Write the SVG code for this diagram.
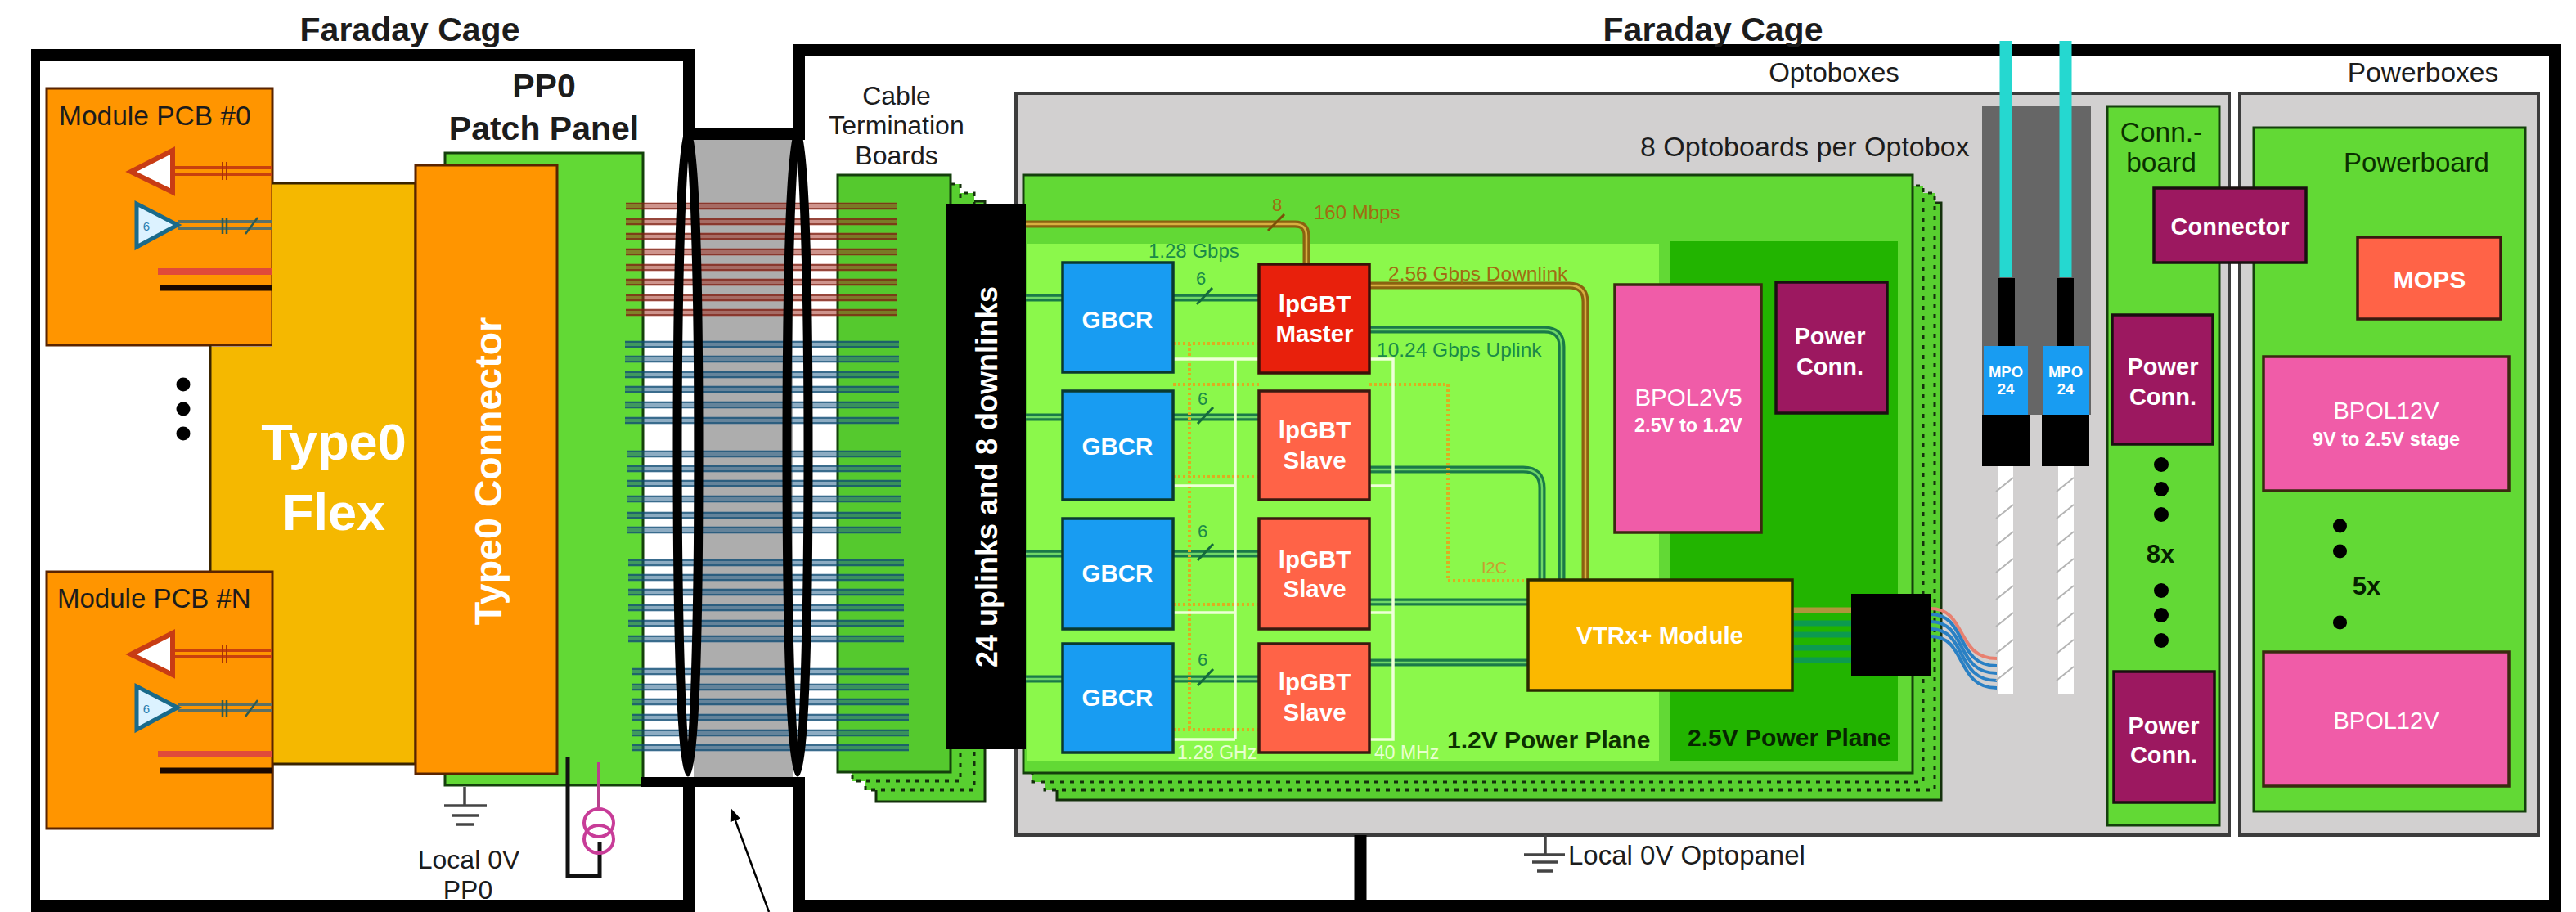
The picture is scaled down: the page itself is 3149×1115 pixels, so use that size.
<svg xmlns="http://www.w3.org/2000/svg" xmlns:xlink="http://www.w3.org/1999/xlink" width="3149" height="1115" viewBox="0 0 3149 1115">
<style>
text{font-family:"Liberation Sans",Arial,sans-serif;fill:#1c1c1c}
.b{font-weight:bold}
.m{text-anchor:middle}
.w{fill:#fff}
.gt{fill:#1a8a48}
.ot{fill:#a06c12}
.brd{fill:#62d935;stroke:#14400c;stroke-width:3}
.ctb{fill:#55c92e;stroke:#14400c;stroke-width:3}
.dot{fill:#58cf30;stroke:#14300c;stroke-width:3;stroke-dasharray:5 7}
.sol{fill:#58cf30;stroke:#14300c;stroke-width:3}
.gbcr{fill:#189cf2;stroke:#0a3a30;stroke-width:3.5}
.slv{fill:#ff6347;stroke:#3a1a10;stroke-width:3.5}
.mag{fill:#9c1860;stroke:#1a1010;stroke-width:3.5}
.pnk{fill:#f05ca8;stroke:#3a2a10;stroke-width:3.5}
.box{fill:#d2d0d0;stroke:#3c3c3c;stroke-width:4}
.mod{fill:#ff9500;stroke:#5a2400;stroke-width:3}
.rb{fill:none;stroke:#a02a1c;stroke-width:9;opacity:.5}
.rw{fill:none;stroke:#7a1c10;stroke-width:2;opacity:.65}
.bb{fill:none;stroke:#1c5a88;stroke-width:9;opacity:.5}
.bw{fill:none;stroke:#0e4a70;stroke-width:2;opacity:.65}
.go{fill:none;stroke:#1a7a48;stroke-width:9}
.gi{fill:none;stroke:#6fd868;stroke-width:2.5}
.oo{fill:none;stroke:#8a6210;stroke-width:9}
.oi{fill:none;stroke:#d8b040;stroke-width:2.5}
.tick{fill:none;stroke:#146a3c;stroke-width:3}
.clk{fill:none;stroke:#eeffd8;stroke-width:3.5}
.i2c{fill:none;stroke:#dcae20;stroke-width:4;stroke-dasharray:3 3}
.gnd{fill:none;stroke:#444;stroke-width:3.5}
.dots{fill:#000}
</style>
<defs>
<g id="modint">
<path d="M211 205H333M211 213H333" fill="none" stroke="#c8400e" stroke-width="4"/>
<path d="M272 198V220M277 198V220" fill="none" stroke="#a83408" stroke-width="2"/>
<polygon points="160,210 211,184 211,235" fill="#fff" stroke="#c83c14" stroke-width="6"/>
<path d="M217 271H333M217 279H333" fill="none" stroke="#5a7066" stroke-width="4"/>
<path d="M272 266V286M277 266V286M300 286L315 266" fill="none" stroke="#2c5a50" stroke-width="2.5"/>
<polygon points="167,249 167,302 217,275" fill="#dcf2ff" stroke="#1a6a8a" stroke-width="5"/>
<text x="179" y="282" font-size="15" style="fill:#2a80b0" text-anchor="middle">6</text>
<path d="M193 332H333" stroke="#e04a3a" stroke-width="8"/>
<path d="M195 352H333" stroke="#1a0800" stroke-width="7"/>
</g>
<path id="hatch" d="M2440 601l21-17M2440 634l21-17M2440 667l21-17M2440 700l21-17M2440 733l21-17M2440 766l21-17M2440 799l21-17M2440 832l21-17" fill="none" stroke="#b4b4b4" stroke-width="2"/>
<marker id="ah" markerWidth="16" markerHeight="13" refX="1" refY="6.5" orient="auto" markerUnits="userSpaceOnUse" viewBox="0 0 16 13"><path d="M0 0L16 6.500L0 13Z" fill="#000"/></marker>
</defs>
<rect width="3149" height="1115" fill="#fff"/>

<g id="cage-left">
<rect x="38" y="60" width="812" height="1055" fill="#000"/>
<rect x="49" y="75" width="786" height="1025" fill="#fff"/>
<rect x="835" y="171" width="15" height="779" fill="#fff"/>
<text class="b m" x="501" y="50" font-size="41">Faraday Cage</text>
</g>
<g id="cage-right">
<rect x="969" y="54" width="2162" height="1061" fill="#000"/>
<rect x="984" y="68" width="2132" height="1032" fill="#fff"/>
<rect x="969" y="171" width="15" height="779" fill="#fff"/>
<text class="b m" x="2094" y="50" font-size="41">Faraday Cage</text>
</g>
<g id="cable-bundle">
<rect x="848" y="171" width="121" height="779" fill="#adadad"/>
</g>

<g id="module-0">
<rect class="mod" x="57" y="108" width="276" height="314"/>
<text x="72" y="153" font-size="33.500">Module PCB #0</text>
</g>
<g id="type0-flex">
<rect x="257" y="424" width="76" height="274" fill="#f5b800" stroke="none"/>
<path d="M333 224H508V934H333V1013H333" fill="#f5b800" stroke="#3a2400" stroke-width="3"/>
<path d="M257 422V699" fill="none" stroke="#3a2400" stroke-width="3"/>
<text class="b m w" x="408" y="562" font-size="63">Type0</text>
<text class="b m w" x="408" y="648" font-size="63">Flex</text>
</g>
<g id="module-n">
<rect class="mod" x="57" y="699" width="276" height="314"/>
<text x="70" y="743" font-size="33">Module PCB #N</text>
</g>
<use xlink:href="#modint" href="#modint"/>
<use xlink:href="#modint" href="#modint" transform="translate(0 590)"/>
<g id="dots-left" class="dots"><circle cx="224" cy="470" r="8.5"/><circle cx="224" cy="500" r="8.5"/><circle cx="224" cy="530" r="8.5"/></g>

<g id="pp0-panel">
<rect class="brd" x="544" y="187" width="242" height="773"/>
<text class="b m" x="665" y="119" font-size="41">PP0</text>
<text class="b m" x="665" y="171" font-size="41">Patch Panel</text>
</g>
<g id="type0-connector">
<rect class="mod" x="508" y="202" width="173" height="744" stroke="#3a2400"/>
<text class="b m w" transform="translate(613 576) rotate(-90)" font-size="46.5">Type0 Connector</text>
</g>
<g id="pp0-ground">
<path class="gnd" d="M568 962V985M543 985H595M553 997H586M558 1008H579"/>
<text class="m" x="573" y="1062" font-size="32">Local 0V</text>
<text class="m" x="572" y="1099" font-size="32">PP0</text>
</g>
<g id="pp0-sensor">
<path d="M694 926V1071H733V1030" fill="none" stroke="#111" stroke-width="5"/>
<path d="M732 932V991" fill="none" stroke="#b8408c" stroke-width="4"/>
<ellipse cx="732" cy="1006" rx="18" ry="17" fill="none" stroke="#c83c98" stroke-width="4"/>
<ellipse cx="732" cy="1026" rx="18" ry="17" fill="none" stroke="#c83c98" stroke-width="4"/>
</g>

<g id="ctb">
<rect class="sol" x="1071" y="246" width="133" height="734"/>
<rect class="dot" x="1058" y="236" width="133" height="730"/>
<rect class="dot" x="1042" y="225" width="132" height="730"/>
<rect class="ctb" x="1024" y="214" width="138" height="730"/>
<text class="m" x="1096" y="128" font-size="32">Cable</text>
<text class="m" x="1096" y="164" font-size="32">Termination</text>
<text class="m" x="1096" y="201" font-size="32">Boards</text>
</g>

<g id="optoboxes">
<rect class="box" x="1242" y="114" width="1483" height="907"/>
<text class="m" x="2242" y="100" font-size="33">Optoboxes</text>
<text x="2005" y="191" font-size="34">8 Optoboards per Optobox</text>
</g>
<g id="optoboard">
<rect class="sol" x="1292" y="248" width="1081" height="730"/>
<rect class="dot" x="1277" y="236" width="1088" height="730"/>
<rect class="dot" x="1262" y="227" width="1089" height="729"/>
<rect class="brd" x="1251" y="214" width="1087" height="731"/>
<rect x="1255" y="298" width="773" height="632" fill="#8bf84b"/>
<rect x="2041" y="295" width="279" height="636" fill="#22b400"/>
<text class="b" x="1769" y="915" font-size="30" style="fill:#0c3000">1.2V Power Plane</text>
<text class="b" x="2063" y="912" font-size="30" style="fill:#062400">2.5V Power Plane</text>
</g>

<g id="connectors">
<path class="go" d="M1254 364H1539M1254 510H1539M1254 677H1539M1254 830H1539"/>
<path class="gi" d="M1254 364H1539M1254 510H1539M1254 677H1539M1254 830H1539"/>
<path class="tick" d="M1463 372L1482 352M1464 518L1483 498M1464 685L1483 665M1464 838L1483 818"/>
<path class="oo" d="M1254 274H1583Q1597 274 1597 288V323"/>
<path class="oi" d="M1254 274H1583Q1597 274 1597 288V323"/>
<path d="M1550 282L1570 262" fill="none" stroke="#7a5008" stroke-width="3"/>
<path class="oo" d="M1674 349H1918Q1938 349 1938 369V709"/>
<path class="oi" d="M1674 349H1918Q1938 349 1938 369V709"/>
<path class="go" d="M1674 403H1888Q1909 403 1909 424V709"/>
<path class="gi" d="M1674 403H1888Q1909 403 1909 424V709"/>
<path class="go" d="M1674 574H1862Q1885 574 1885 597V709"/>
<path class="gi" d="M1674 574H1862Q1885 574 1885 597V709"/>
<path class="go" d="M1674 736H1868M1674 810H1868"/>
<path class="gi" d="M1674 736H1868M1674 810H1868"/>
<path class="i2c" d="M1434 420H1539M1454 420V892M1434 470H1539M1434 583H1539M1434 739H1539M1434 892H1539M1674 470H1770V710H1868"/>
<path class="clk" d="M1434 439H1539M1510 439V904M1434 594H1510M1434 749H1510M1434 904H1510M1674 439H1703V904H1674M1674 594H1703M1674 749H1703"/>
<path class="rb" d="M765 252H1096M765 271H1096M765 289H1096M765 308H1096M765 327H1096M765 345H1096M765 364H1096M765 382H1096"/>
<path class="rw" d="M765 249H1096M765 255H1096M765 268H1096M765 274H1096M765 286H1096M765 292H1096M765 305H1096M765 311H1096M765 324H1096M765 330H1096M765 342H1096M765 348H1096M765 361H1096M765 367H1096M765 379H1096M765 385H1096"/>
<path class="bb" d="M764 421H1099M764 439H1099M764 458H1099M764 476H1099M764 495H1099M764 514H1099M766 555H1101M766 573H1101M766 591H1101M766 610H1101M766 630H1101M766 648H1101M768 688H1105M768 706H1105M768 724H1105M768 743H1105M768 762H1105M768 781H1105M772 821H1111M772 840H1111M772 858H1111M772 877H1111M772 896H1111M772 914H1111"/>
<path class="bw" d="M764 418H1099M764 424H1099M764 436H1099M764 442H1099M764 455H1099M764 461H1099M764 473H1099M764 479H1099M764 492H1099M764 498H1099M764 511H1099M764 517H1099M766 552H1101M766 558H1101M766 570H1101M766 576H1101M766 588H1101M766 594H1101M766 607H1101M766 613H1101M766 627H1101M766 633H1101M766 645H1101M766 651H1101M768 685H1105M768 691H1105M768 703H1105M768 709H1105M768 721H1105M768 727H1105M768 740H1105M768 746H1105M768 759H1105M768 765H1105M768 778H1105M768 784H1105M772 818H1111M772 824H1111M772 837H1111M772 843H1111M772 855H1111M772 861H1111M772 874H1111M772 880H1111M772 893H1111M772 899H1111M772 911H1111M772 917H1111"/>
<path d="M2191 746H2263" fill="none" stroke="#b0963c" stroke-width="7"/>
<path d="M2191 762H2263M2191 776H2263M2191 792H2263M2191 807H2263" fill="none" stroke="#0c9a50" stroke-width="7"/>
<path d="M2360 744C2405 744 2390 805 2441 805" fill="none" stroke="#e88070" stroke-width="4"/>
<path d="M2360 751C2405 751 2390 814 2441 814M2360 760C2405 760 2390 823 2441 823M2360 769C2405 769 2390 832 2441 832M2360 778C2405 778 2390 841 2441 841" fill="none" stroke="#2a80c4" stroke-width="4"/>
<path d="M1889 1021V1045M1863 1045H1913M1873 1054H1905M1879 1065H1898" class="gnd"/>
<path d="M1663 1021V1100" fill="none" stroke="#000" stroke-width="15"/>
<path d="M940 1115L898.500 1002" fill="none" stroke="#000" stroke-width="2.5" marker-end="url(#ah)"/>
</g>

<g id="cable-clamps">
<rect x="835" y="156" width="140" height="15" fill="#000"/>
<rect x="783" y="950" width="192" height="12" fill="#000"/>
<ellipse cx="841" cy="552" rx="13" ry="392" fill="none" stroke="#000" stroke-width="11"/>
<ellipse cx="975" cy="552" rx="13" ry="392" fill="none" stroke="#000" stroke-width="11"/>
</g>

<g id="uplinks-bar">
<rect x="1157" y="250" width="97" height="666" fill="#000"/>
<text class="b w" transform="translate(1219 816) rotate(-90)" font-size="36">24 uplinks and 8 downlinks</text>
</g>

<g id="link-labels">
<text class="ot m" x="1561" y="258" font-size="22">8</text>
<text class="ot" x="1606" y="268" font-size="24">160 Mbps</text>
<text class="gt" x="1404" y="315" font-size="24">1.28 Gbps</text>
<text class="gt m" x="1468" y="348" font-size="22">6</text>
<text class="gt m" x="1470" y="495" font-size="22">6</text>
<text class="gt m" x="1470" y="657" font-size="22">6</text>
<text class="gt m" x="1470" y="814" font-size="22">6</text>
<text class="ot" x="1697" y="343" font-size="24.5">2.56 Gbps Downlink</text>
<text class="gt" x="1683" y="436" font-size="24.5">10.24 Gbps Uplink</text>
<text x="1811" y="701" font-size="20" style="fill:#c8a030">I2C</text>
<text x="1439" y="928" font-size="23" style="fill:#e8ffd0">1.28 GHz</text>
<text x="1680" y="928" font-size="23" style="fill:#e8ffd0">40 MHz</text>
</g>

<g id="gbcr-0"><rect class="gbcr" x="1299" y="321" width="135" height="134"/><text class="b m w" x="1366" y="401" font-size="29.5">GBCR</text></g>
<g id="gbcr-1"><rect class="gbcr" x="1299" y="478" width="135" height="133"/><text class="b m w" x="1366" y="556" font-size="29.5">GBCR</text></g>
<g id="gbcr-2"><rect class="gbcr" x="1299" y="634" width="135" height="135"/><text class="b m w" x="1366" y="711" font-size="29.5">GBCR</text></g>
<g id="gbcr-3"><rect class="gbcr" x="1299" y="787" width="135" height="133"/><text class="b m w" x="1366" y="863" font-size="29.5">GBCR</text></g>
<g id="lpgbt-master"><rect x="1539" y="323" width="135" height="133" fill="#e8200c" stroke="#3a1008" stroke-width="3.5"/><text class="b m w" x="1607" y="382" font-size="29.5">lpGBT</text><text class="b m w" x="1607" y="418" font-size="29.5">Master</text></g>
<g id="lpgbt-slave-1"><rect class="slv" x="1539" y="478" width="135" height="133"/><text class="b m w" x="1607" y="536" font-size="29.5">lpGBT</text><text class="b m w" x="1607" y="573" font-size="29.5">Slave</text></g>
<g id="lpgbt-slave-2"><rect class="slv" x="1539" y="634" width="135" height="135"/><text class="b m w" x="1607" y="694" font-size="29.5">lpGBT</text><text class="b m w" x="1607" y="730" font-size="29.5">Slave</text></g>
<g id="lpgbt-slave-3"><rect class="slv" x="1539" y="787" width="135" height="133"/><text class="b m w" x="1607" y="844" font-size="29.5">lpGBT</text><text class="b m w" x="1607" y="881" font-size="29.5">Slave</text></g>
<g id="bpol2v5"><rect class="pnk" x="1974" y="348" width="179" height="303"/><text class="m w" x="2064" y="496" font-size="29.5">BPOL2V5</text><text class="b m w" x="2064" y="528" font-size="23.5">2.5V to 1.2V</text></g>
<g id="power-conn-board"><rect class="mag" x="2171" y="345" width="136" height="160"/><text class="b m w" x="2237" y="421" font-size="29">Power</text><text class="b m w" x="2237" y="458" font-size="29">Conn.</text></g>
<g id="vtrx"><rect x="1868" y="709" width="323" height="135" fill="#fbb800" stroke="#2a2a00" stroke-width="3.5"/><text class="b m w" x="2029" y="787" font-size="29.5">VTRx+ Module</text></g>
<g id="fiber-conn"><rect x="2263" y="726" width="97" height="101" fill="#000"/></g>

<g id="mpo-housing"><rect x="2423" y="129" width="133" height="378" fill="#666"/></g>
<g id="hatched-fibers">
<rect x="2442" y="570" width="19" height="278" fill="#fff"/>
<rect x="2516" y="570" width="19" height="278" fill="#fff"/>
<use xlink:href="#hatch" href="#hatch"/>
<use xlink:href="#hatch" href="#hatch" transform="translate(74 0)"/>
</g>
<g id="mpo-0">
<rect x="2444.500" y="50" width="15" height="289" fill="#25d8d0"/>
<rect x="2442" y="340" width="21" height="84" fill="#000"/>
<rect x="2425" y="423" width="54" height="84" fill="#189cf2"/>
<rect x="2423" y="507" width="58" height="63" fill="#000"/>
<text class="b m w" x="2452" y="461" font-size="18.500">MPO</text><text class="b m w" x="2452" y="482" font-size="18.500">24</text>
</g>
<g id="mpo-1">
<rect x="2517.500" y="50" width="15" height="289" fill="#25d8d0"/>
<rect x="2514" y="340" width="21" height="84" fill="#000"/>
<rect x="2498" y="423" width="56" height="84" fill="#189cf2"/>
<rect x="2496" y="507" width="58" height="63" fill="#000"/>
<text class="b m w" x="2525" y="461" font-size="18.500">MPO</text><text class="b m w" x="2525" y="482" font-size="18.500">24</text>
</g>
<text x="1917" y="1057" font-size="33">Local 0V Optopanel</text>

<g id="powerboxes">
<rect class="box" x="2738" y="114" width="365" height="907"/>
<text class="m" x="2962" y="100" font-size="33.500">Powerboxes</text>
</g>
<g id="conn-board">
<rect class="brd" x="2576" y="130" width="137" height="879"/>
<text class="m" x="2642" y="173" font-size="33.500" style="fill:#0a3000">Conn.-</text>
<text class="m" x="2642" y="210" font-size="33.500" style="fill:#0a3000">board</text>
<g class="dots"><circle cx="2642" cy="568" r="9"/><circle cx="2642" cy="598" r="9"/><circle cx="2642" cy="629" r="9"/><circle cx="2642" cy="722" r="9"/><circle cx="2642" cy="752" r="9"/><circle cx="2642" cy="783" r="9"/></g>
<text class="b m" x="2641" y="688" font-size="31" style="fill:#062000">8x</text>
</g>
<g id="powerboard">
<rect class="brd" x="2755" y="156" width="332" height="836"/>
<text class="m" x="2954" y="210" font-size="33" style="fill:#0a3000">Powerboard</text>
<g class="dots"><circle cx="2860.500" cy="643" r="8.500"/><circle cx="2860.500" cy="674" r="8.500"/><circle cx="2860.500" cy="761" r="8.500"/></g>
<text class="b m" x="2893" y="727" font-size="31" style="fill:#062000">5x</text>
</g>
<g id="connector"><rect class="mag" x="2633" y="230" width="186" height="91"/><text class="b m w" x="2726" y="287" font-size="29">Connector</text></g>
<g id="power-conn-top"><rect class="mag" x="2582" y="385" width="123" height="158"/><text class="b m w" x="2644" y="458" font-size="29">Power</text><text class="b m w" x="2644" y="495" font-size="29">Conn.</text></g>
<g id="power-conn-bottom"><rect class="mag" x="2584" y="821" width="123" height="160"/><text class="b m w" x="2645" y="897" font-size="29">Power</text><text class="b m w" x="2645" y="933" font-size="29">Conn.</text></g>
<g id="mops"><rect class="slv" x="2882" y="290" width="175" height="100"/><text class="b m w" x="2970" y="352" font-size="30">MOPS</text></g>
<g id="bpol12v-0"><rect class="pnk" x="2767" y="436" width="300" height="164"/><text class="m w" x="2917" y="512" font-size="29">BPOL12V</text><text class="b m w" x="2917" y="545" font-size="23.500">9V to 2.5V stage</text></g>
<g id="bpol12v-1"><rect class="pnk" x="2767" y="797" width="300" height="164"/><text class="m w" x="2917" y="891" font-size="29">BPOL12V</text></g>
</svg>
